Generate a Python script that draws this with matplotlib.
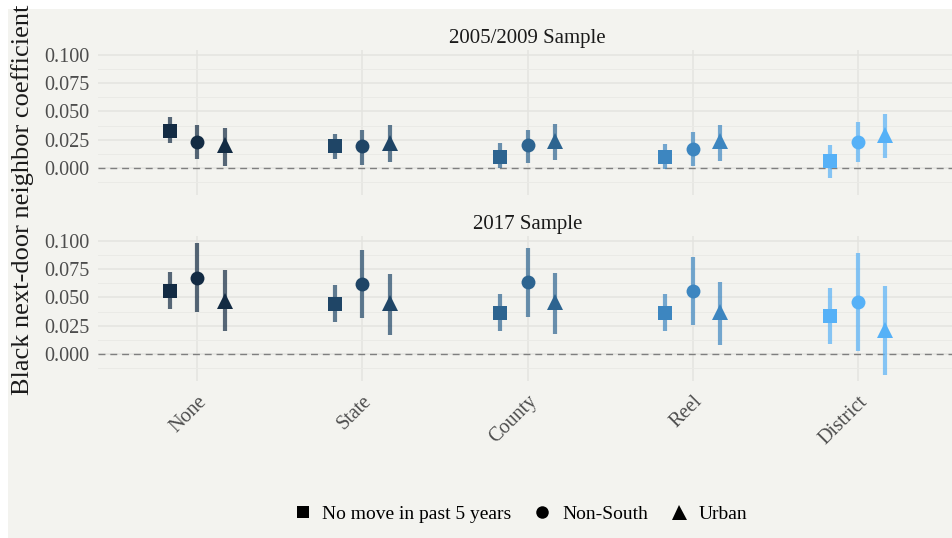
import matplotlib.pyplot as plt
from matplotlib.patches import Rectangle
from matplotlib.lines import Line2D
from matplotlib.ticker import MultipleLocator

# fixed effects categories and the three subsamples
categories = ['None', 'State', 'County', 'Reel', 'District']
series = ['No move in past 5 years', 'Non-South', 'Urban']
panels = ['2005/2009 Sample', '2017 Sample']

# 2005/2009 sample: estimate, lower, upper (per series, per category)
est_0509 = {
    'No move in past 5 years': [0.033, 0.019, 0.010, 0.010, 0.006],
    'Non-South': [0.023, 0.019, 0.020, 0.017, 0.023],
    'Urban': [0.020, 0.022, 0.024, 0.024, 0.029],
}
lo_0509 = {
    'No move in past 5 years': [0.022, 0.008, 0.000, -0.001, -0.009],
    'Non-South': [0.008, 0.003, 0.004, 0.002, 0.005],
    'Urban': [0.002, 0.005, 0.007, 0.006, 0.009],
}
hi_0509 = {
    'No move in past 5 years': [0.045, 0.030, 0.022, 0.021, 0.020],
    'Non-South': [0.038, 0.034, 0.034, 0.032, 0.041],
    'Urban': [0.035, 0.038, 0.039, 0.038, 0.048],
}

# 2017 sample
est_2017 = {
    'No move in past 5 years': [0.056, 0.044, 0.036, 0.036, 0.034],
    'Non-South': [0.067, 0.062, 0.064, 0.056, 0.046],
    'Urban': [0.047, 0.045, 0.046, 0.037, 0.021],
}
lo_2017 = {
    'No move in past 5 years': [0.040, 0.028, 0.020, 0.020, 0.009],
    'Non-South': [0.037, 0.032, 0.033, 0.026, 0.003],
    'Urban': [0.020, 0.017, 0.018, 0.008, -0.019],
}
hi_2017 = {
    'No move in past 5 years': [0.073, 0.061, 0.053, 0.053, 0.058],
    'Non-South': [0.098, 0.092, 0.094, 0.086, 0.089],
    'Urban': [0.074, 0.071, 0.072, 0.064, 0.060],
}

cat_colors = ['#132b43', '#1f4566', '#2d6490', '#3d86c0', '#56b1f7']
markers = {'No move in past 5 years': 's', 'Non-South': 'o', 'Urban': '^'}
msizes = {'No move in past 5 years': 10, 'Non-South': 10, 'Urban': 12}
offsets = {'No move in past 5 years': -1/6, 'Non-South': 0.0, 'Urban': 1/6}

bg = '#f3f3ef'
serif = ['Liberation Serif', 'DejaVu Serif']
plt.rcParams['font.family'] = serif

W, H = 953, 538
fig = plt.figure(figsize=(W / 100, H / 100), dpi=100, facecolor=bg)
# white margins at the top and left (cropped look)
fig.patches.append(Rectangle((0, 1 - 9 / H), 1, 9 / H, transform=fig.transFigure,
                             facecolor='white', edgecolor='none', zorder=0))
fig.patches.append(Rectangle((0, 0), 8 / W, 1, transform=fig.transFigure,
                             facecolor='white', edgecolor='none', zorder=0))

left = 98 / W
width = (957 - 98) / W
tops = [50, 236]
ph = 145

data = [(est_0509, lo_0509, hi_0509), (est_2017, lo_2017, hi_2017)]

for k in range(2):
    ax = fig.add_axes([left, 1 - (tops[k] + ph) / H, width, ph / H])
    ax.set_facecolor(bg)
    est, lo, hi = data[k]
    for s in series:
        for i in range(len(categories)):
            x = i + offsets[s]
            ax.plot([x, x], [lo[s][i], hi[s][i]], color=cat_colors[i], alpha=0.7,
                    lw=3, solid_capstyle='butt', zorder=3)
            ax.plot(x, est[s][i], marker=markers[s], ms=msizes[s], color=cat_colors[i],
                    markeredgewidth=0, zorder=4)
    ax.axhline(0, color='#7f7f7f', lw=1, dashes=(5, 3.5), zorder=2)
    ax.set_xlim(-0.6, 4.6)
    ax.set_ylim(-0.024, 0.1045)
    ax.yaxis.set_major_locator(MultipleLocator(0.025))
    ax.yaxis.set_minor_locator(MultipleLocator(0.0125))
    ax.set_yticks([0, 0.025, 0.05, 0.075, 0.1])
    ax.set_yticklabels(['0.000', '0.025', '0.050', '0.075', '0.100'])
    ax.set_xticks(range(len(categories)))
    ax.grid(True, which='major', color='#e4e4e0', lw=1.1, zorder=0)
    ax.grid(True, which='minor', axis='y', color='#eaeae6', lw=0.7, zorder=0)
    ax.set_axisbelow(True)
    for sp in ax.spines.values():
        sp.set_visible(False)
    ax.tick_params(which='both', length=0, labelsize=14.5, labelcolor='#4d4d4d', pad=6)
    ax.set_title(panels[k], fontsize=15, color='#1a1a1a', pad=5)
    if k == 0:
        ax.set_xticklabels([])
    else:
        ax.set_xticklabels(categories, rotation=45, ha='right', rotation_mode='anchor')
        ax.tick_params(axis='x', pad=8)

fig.text(23 / W, 1 - 200 / H, 'Black next-door neighbor coefficient', rotation=90,
         ha='center', va='center', fontsize=19, color='#1a1a1a')

handles = [Line2D([], [], marker=markers[s], ms=msizes[s] * 0.9, color='black', lw=0,
                  markeredgewidth=0) for s in series]
fig.legend(handles, series, loc='center', bbox_to_anchor=(518 / W, 1 - 514 / H), ncol=3,
           frameon=False, fontsize=14, handletextpad=0.3, columnspacing=0.9,
           handlelength=1.4)

fig.savefig('out.png', dpi=100, facecolor=fig.get_facecolor())
